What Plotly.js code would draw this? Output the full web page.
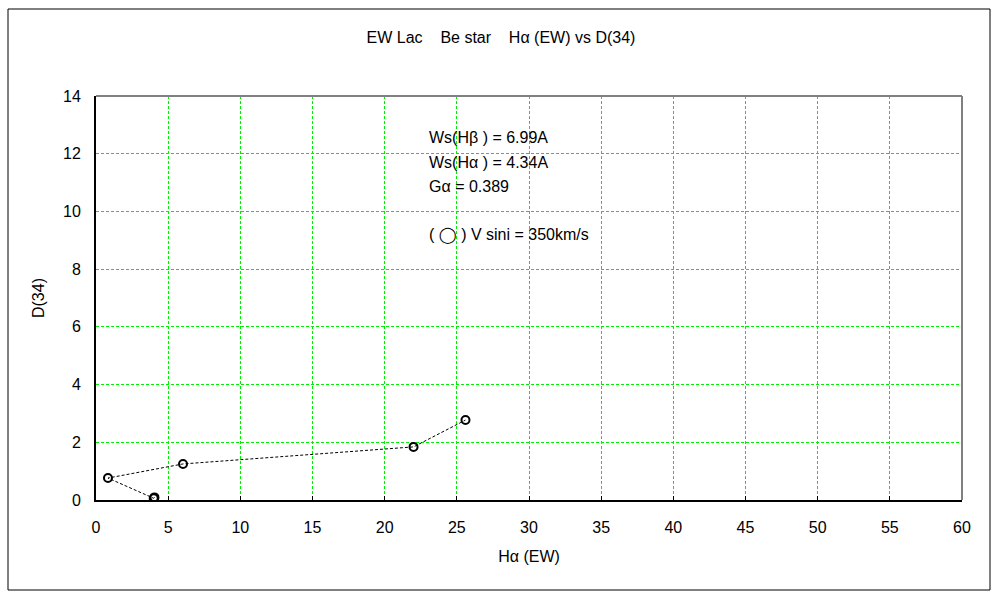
<!DOCTYPE html>
<html>
<head>
<meta charset="utf-8">
<script src="https://cdn.plot.ly/plotly-3.0.1.min.js"></script>
<style>html,body{margin:0;padding:0;background:#fff;}#chart{width:1000px;height:600px;}</style>
</head>
<body>
<div id="chart"></div>
<script>
// Data
const haEW = [4.05, 4.0, 0.83, 6.03, 22.0, 25.6];
const d34  = [0.09, 0.06, 0.76, 1.25, 1.84, 2.77];
const xTicks = [0, 5, 10, 15, 20, 25, 30, 35, 40, 45, 50, 55, 60];
const yTicks = [0, 2, 4, 6, 8, 10, 12, 14];
const noteLines = ["Ws(H\u03B2\u00A0) = 6.99A", "Ws(H\u03B1\u00A0) = 4.34A", "G\u03B1 = 0.389", "", "(\u00A0\u25EF\u00A0) V sini = 350km/s"];
const titleText = "EW Lac\u00A0\u00A0\u00A0\u00A0Be star\u00A0\u00A0\u00A0\u00A0H\u03B1\u00A0(EW) vs D(34)";

const FONT = "'Liberation Sans', 'DejaVu Sans', sans-serif";
const FS = 16;

const trace = {
  x: haEW, y: d34, type: 'scatter', mode: 'lines+markers',
  line: {color: '#000', width: 1, dash: '3px,2px'},
  marker: {symbol: 'circle-open', size: 8, color: '#000', line: {width: 2, color: '#000'}},
  hoverinfo: 'skip', showlegend: false
};

const annotations = [];
const ys = [137, 162, 186, 211, 235];
noteLines.forEach((t, i) => {
  if (!t) return;
  annotations.push({
    xref: 'paper', yref: 'paper',
    x: (427 - 96) / 866, y: (500 - ys[i]) / 404,
    xanchor: 'left', yanchor: 'middle', showarrow: false,
    text: t, font: {family: FONT, size: FS, color: '#000'}
  });
});

const layout = {
  width: 1000, height: 600,
  margin: {l: 96, r: 38, t: 96, b: 100},
  paper_bgcolor: '#fff', plot_bgcolor: '#fff',
  title: {text: titleText, x: 0.501, xref: 'container', xanchor: 'center', y: 1 - 37/600, yanchor: 'middle',
          font: {family: FONT, size: FS, color: '#000'}},
  xaxis: {
    range: [0, 60], tickvals: xTicks, ticktext: xTicks.map(String),
    showgrid: true, gridcolor: '#00ee00', griddash: '3px,2px', gridwidth: 1,
    showline: true, linecolor: '#000', linewidth: 2, mirror: false,
    ticks: 'inside', ticklen: 4, tickcolor: '#000', ticklabelstandoff: 12,
    zeroline: false, tickfont: {family: FONT, size: FS, color: '#000'},
    title: {text: 'H\u03B1\u00A0(EW)', font: {family: FONT, size: FS, color: '#000'}, standoff: 16}
  },
  yaxis: {
    range: [0, 14], tickvals: yTicks, ticktext: yTicks.map(String),
    showgrid: true, gridcolor: '#00ee00', griddash: '3px,2px', gridwidth: 1,
    showline: true, linecolor: '#000', linewidth: 2, mirror: false,
    ticks: '', zeroline: false, ticklabelstandoff: 10,
    tickfont: {family: FONT, size: FS, color: '#000'},
    title: {text: 'D(34)', font: {family: FONT, size: FS, color: '#000'}, standoff: 14}
  },
  annotations: annotations,
  shapes: [
    {type: 'line', xref: 'paper', yref: 'paper', x0: 0, x1: 1, y0: 1, y1: 1, line: {color: '#808080', width: 2}},
    {type: 'line', xref: 'paper', yref: 'paper', x0: 1, x1: 1, y0: 0, y1: 1, line: {color: '#808080', width: 2}},
    {type: 'rect', xref: 'paper', yref: 'paper',
     x0: (8 - 96) / 866, x1: (990 - 96) / 866, y0: (500 - 590) / 404, y1: (500 - 9) / 404,
     line: {color: '#000', width: 1}, fillcolor: 'rgba(0,0,0,0)'}
  ]
};

Plotly.newPlot('chart', [trace], layout, {displayModeBar: false, staticPlot: true});
</script>
</body>
</html>
